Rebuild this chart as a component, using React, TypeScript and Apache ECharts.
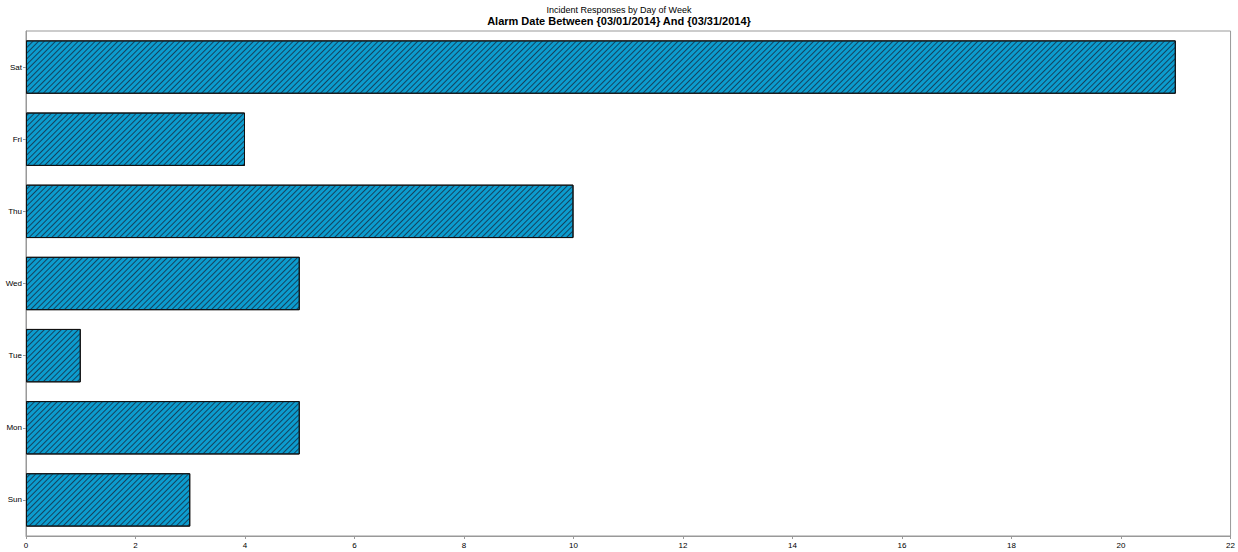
import React, { useEffect, useRef } from "react";
import * as echarts from "echarts";

const days = ["Sun", "Mon", "Tue", "Wed", "Thu", "Fri", "Sat"];
const counts = [3, 5, 1, 5, 10, 4, 21];
const xTicks = { min: 0, max: 22, interval: 2 };
const titleText = "Incident Responses by Day of Week";
const subtitleText = "Alarm Date Between {03/01/2014} And {03/31/2014}";

export default function App() {
  const ref = useRef<HTMLDivElement>(null);
  useEffect(() => {
    if (!ref.current) return;
    const chart = echarts.init(ref.current, undefined, { renderer: "svg" });
    const font = "'Liberation Sans', Arial, sans-serif";
    chart.setOption({
      animation: false,
      backgroundColor: "#fff",
      title: {
        text: titleText,
        subtext: subtitleText,
        left: "center",
        top: 0,
        itemGap: 1,
        textStyle: { fontFamily: font, fontSize: 9, fontWeight: "normal", color: "#000" },
        subtextStyle: { fontFamily: font, fontSize: 11, fontWeight: "bold", color: "#000" },
      },
      grid: {
        left: 26,
        right: 5,
        top: 31,
        bottom: 16,
        show: true,
        borderColor: "#999",
        borderWidth: 1,
        containLabel: false,
      },
      xAxis: {
        type: "value",
        min: xTicks.min,
        max: xTicks.max,
        interval: xTicks.interval,
        axisLine: { show: true, lineStyle: { color: "#999" } },
        axisTick: { show: true, length: 3, lineStyle: { color: "#999" } },
        splitLine: { show: false },
        axisLabel: { fontFamily: font, fontSize: 8, color: "#000", margin: 5 },
      },
      yAxis: {
        type: "category",
        data: days,
        axisLine: { show: true, lineStyle: { color: "#999" } },
        axisTick: { show: true, length: 3, alignWithLabel: true, lineStyle: { color: "#999" } },
        axisLabel: { fontFamily: font, fontSize: 8, color: "#000", margin: 4 },
      },
      series: [
        {
          type: "bar",
          data: counts,
          barWidth: "74%",
          itemStyle: {
            color: "#0c9cce",
            borderColor: "#111",
            borderWidth: 1,
            decal: {
              symbol: "rect",
              symbolSize: 1,
              color: "rgba(20,50,75,0.85)",
              dashArrayX: [1, 0],
              dashArrayY: [1, 3],
              rotation: -Math.PI / 4,
            },
          },
        },
      ],
    });
    return () => chart.dispose();
  }, []);
  return (
    <div
      ref={ref}
      style={{ position: "fixed", left: 0, top: 0, width: 1238, height: 552 }}
    />
  );
}
